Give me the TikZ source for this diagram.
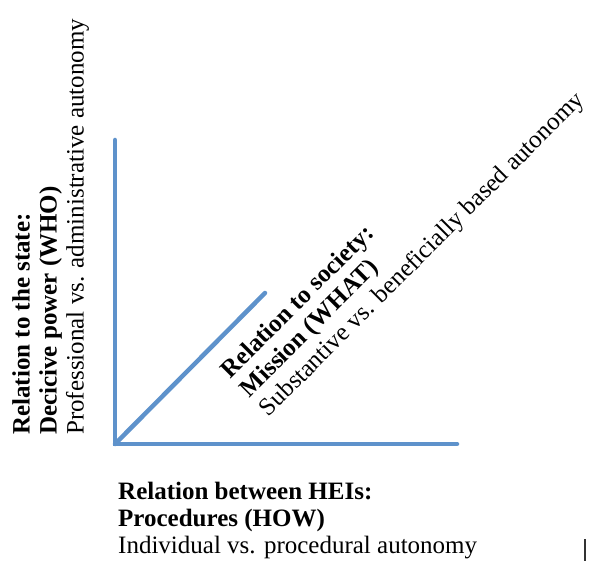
\documentclass[tikz,border=0pt]{standalone}
\usepackage{fontspec}
\setmainfont{Liberation Serif}
\usepackage{tikz}
\definecolor{axisblue}{RGB}{94,146,203}
\tikzset{axis/.style={line width=4.5pt, color=axisblue, line cap=round}}
\tikzset{label/.style={inner sep=0pt, align=left, font=\fontsize{25}{27}\selectfont}}

\begin{document}
\begin{tikzpicture}[x=1pt, y=-1pt]
			\useasboundingbox (0, 0) rectangle (589, 561);
			\coordinate (O) at (115, 444);
			\coordinate (who) at (115, 140);
			\coordinate (how) at (457, 444);
			\coordinate (what) at (265, 293);
			\draw [axis] (who)--(O)--(how);
			\draw [axis] (O)--(what);
			\node (whotext) at (12, 435) [label, rotate=90, anchor=north west] {\textbf{Relation to the state:}\\\textbf{Decicive power (WHO)}\\Professional vs. administrative autonomy};
			\node (howtext) at (118, 482) [label, anchor=north west] {\textbf{Relation between HEIs:}\\\textbf{Procedures (HOW)}\\Individual vs. procedural autonomy};
			\node (whattext) at (218, 367) [label, rotate=45, anchor=north west] {\textbf{Relation to society:}\\\textbf{Mission (WHAT)}\\Substantive vs. beneficially based autonomy};
			\coordinate (tick1) at (585, 539);
			\coordinate (tick2) at (585, 561);
			\draw [line width=1.2pt, black!80] (tick1)--(tick2);
		\end{tikzpicture}
\end{document}
